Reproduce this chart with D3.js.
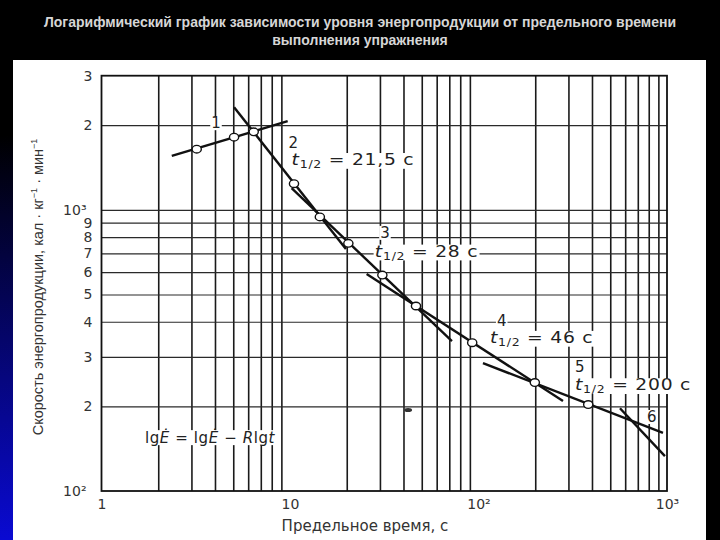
<!DOCTYPE html>
<html>
<head>
<meta charset="utf-8">
<script src="https://cdn.jsdelivr.net/npm/d3@7"></script>
<style>
  body { margin: 0; background: #000; }
  svg text { font-family: "DejaVu Sans", "Liberation Sans", Arial, sans-serif; }
</style>
</head>
<body>
<svg id="chart" width="720" height="540"></svg>
<script>
// limit time of exercise (s) and rate of energy output (cal/kg/min) for the measured points
const timeSec = [3.2, 5.05, 6.42, 10.5, 14.4, 20.4, 30.9, 46.6, 92.6, 199, 382];
const energyRate = [1644, 1814, 1894, 1239, 944, 760, 586, 455, 337, 243, 203];

// fitted straight segments 1..6, ends given as [time, rate]
const segNames = ["1", "2", "3", "4", "5", "6"];
const segStart = [[2.36, 1556], [5.05, 2318], [10.2, 1194], [25.5, 591], [105.6, 285], [563, 197]];
const segEnd = [[9.72, 2067], [19.8, 725], [72.3, 341], [280.7, 209], [952, 161], [975, 133]];

// half-times written next to segments 2..5
const halfTimes = ["21,5", "28", "46", "200"];

// axis ticks
const xTickVals = [1, 10, 100, 1000];
const xTickText = ["1", "10", "10²", "10³"];
const yTickVals = [100, 200, 300, 400, 500, 600, 700, 800, 900, 1000, 2000, 3000];
const yTickText = ["10²", "2", "3", "4", "5", "6", "7", "8", "9", "10³", "2", "3"];
const xGridVals = [2, 3, 4, 5, 6, 7, 8, 9, 20, 30, 40, 50, 60, 70, 80, 90, 200, 300, 400, 500, 600, 700, 800, 900];
const yGridVals = [200, 300, 400, 500, 600, 700, 800, 900, 1000, 2000];

const titleLines = [
  "Логарифмический график зависимости уровня энергопродукции от предельного времени",
  "выполнения упражнения"
];

const svg = d3.select("#chart");

// slide background: black with a blue strip on the left
const defs = svg.append("defs");
const grad = defs.append("linearGradient").attr("id", "side")
  .attr("x1", 0).attr("y1", 0).attr("x2", 0).attr("y2", 1);
grad.append("stop").attr("offset", "0.25").attr("stop-color", "#000");
grad.append("stop").attr("offset", "1").attr("stop-color", "#0a0ad2");

svg.append("rect").attr("width", 720).attr("height", 540).attr("fill", "#000");
svg.append("rect").attr("x", 0).attr("y", 0).attr("width", 13).attr("height", 540).attr("fill", "url(#side)");
svg.append("rect").attr("x", 13).attr("y", 60).attr("width", 693).attr("height", 480).attr("fill", "#fff");

// title
svg.selectAll(".title").data(titleLines).enter().append("text")
  .attr("class", "title")
  .attr("x", 360)
  .attr("y", (d, i) => 27 + i * 18)
  .attr("text-anchor", "middle")
  .style("font-family", "'Liberation Sans', Arial, sans-serif")
  .style("font-weight", "bold")
  .style("font-size", "14px")
  .attr("fill", "#d6d6d6")
  .text(d => d);

// plot area
const plotL = 101.5, plotR = 667, plotT = 75.7, plotB = 491;

const x = d3.scaleLog().domain([1, 1000]).range([plotL, plotR]);
const y = d3.scaleLog().domain([100, 3000]).range([plotB, plotT]);

// grid lines
svg.append("g")
  .attr("transform", `translate(0,${plotB})`)
  .call(d3.axisBottom(x).tickValues(xGridVals).tickSize(-(plotB - plotT)).tickFormat(""))
  .call(g => g.select(".domain").remove())
  .selectAll("line").attr("stroke", "#1a1a1a").attr("stroke-width", 1.6);

svg.append("g")
  .attr("transform", `translate(${plotL},0)`)
  .call(d3.axisLeft(y).tickValues(yGridVals).tickSize(-(plotR - plotL)).tickFormat(""))
  .call(g => g.select(".domain").remove())
  .selectAll("line").attr("stroke", "#2a2a2a").attr("stroke-width", 1.2);

// frame
svg.append("rect")
  .attr("x", plotL).attr("y", plotT)
  .attr("width", plotR - plotL).attr("height", plotB - plotT)
  .attr("fill", "none").attr("stroke", "#111").attr("stroke-width", 1.8);

// tick labels
svg.append("g")
  .attr("transform", `translate(0,${plotB})`)
  .call(d3.axisBottom(x).tickValues(xTickVals).tickSize(0).tickPadding(8)
    .tickFormat((d, i) => xTickText[i]))
  .call(g => g.select(".domain").remove())
  .selectAll("text")
  .style("font-size", "14px").attr("fill", "#333");

const yAx = svg.append("g")
  .attr("transform", `translate(${plotL},0)`)
  .call(d3.axisLeft(y).tickValues(yTickVals).tickSize(0).tickPadding(9)
    .tickFormat((d, i) => yTickText[i]))
  .call(g => g.select(".domain").remove());
yAx.selectAll("text")
  .style("font-size", "14px").attr("fill", "#333")
  .attr("dx", (d, i) => yTickText[i].length > 1 ? -6 : 0);

// axis titles
svg.append("text")
  .attr("x", 365).attr("y", 531)
  .attr("text-anchor", "middle")
  .style("font-size", "15px").attr("fill", "#333")
  .text("Предельное время, с");

const yTitle = svg.append("text")
  .attr("transform", "translate(43,287) rotate(-90)")
  .attr("text-anchor", "middle")
  .style("font-family", "'Liberation Sans', Arial, sans-serif")
  .style("font-size", "14.5px").attr("fill", "#333");
yTitle.append("tspan").text("Скорость энергопродукции, кал · кг");
yTitle.append("tspan").attr("dy", -6).style("font-size", "9px").text("−1");
yTitle.append("tspan").attr("dy", 6).text(" · мин");
yTitle.append("tspan").attr("dy", -6).style("font-size", "9px").text("−1");

// fitted segments
svg.selectAll(".seg").data(segNames).enter().append("line")
  .attr("class", "seg")
  .attr("x1", (d, i) => x(segStart[i][0]))
  .attr("y1", (d, i) => y(segStart[i][1]))
  .attr("x2", (d, i) => x(segEnd[i][0]))
  .attr("y2", (d, i) => y(segEnd[i][1]))
  .attr("stroke", "#111").attr("stroke-width", 2.4);

// measured points
svg.selectAll(".pt").data(timeSec).enter().append("ellipse")
  .attr("class", "pt")
  .attr("cx", d => x(d))
  .attr("cy", (d, i) => y(energyRate[i]))
  .attr("rx", 4.6).attr("ry", 3.8)
  .attr("fill", "#fff").attr("stroke", "#111").attr("stroke-width", 1.4);

// labels sit on small white patches that cut the grid, as in the scan
function patch(g) {
  const b = g.select("text").node().getBBox();
  g.insert("rect", "text")
    .attr("x", b.x - 1).attr("y", b.y + 2)
    .attr("width", b.width + 2).attr("height", b.height - 4)
    .attr("fill", "#fff");
}

// segment numbers and half-time notes (anchored in data units)
const numAt = [[4.05, 1952], [10.4, 1665], [31.9, 795], [132.8, 386], [345, 264], [829, 176]];
const noteAt = [[10.2, 1442], [28.2, 681], [115, 336], [325, 228]];

segNames.forEach((d, i) => {
  const g = svg.append("g")
    .attr("transform", `translate(${x(numAt[i][0])},${y(numAt[i][1])})`);
  g.append("text")
    .attr("text-anchor", "middle")
    .style("font-size", "15px").attr("fill", "#222")
    .text(d);
  patch(g);
});

// the scan uses a wide typeface, so the notes are stretched sideways
halfTimes.forEach((h, i) => {
  const g = svg.append("g")
    .attr("transform", `translate(${x(noteAt[i][0])},${y(noteAt[i][1])}) scale(1.25,1)`);
  const t = g.append("text")
    .style("font-size", "15px").style("letter-spacing", "0.6px").attr("fill", "#222");
  t.append("tspan").style("font-style", "italic").text("t");
  t.append("tspan").attr("dy", 3).style("font-size", "10px").text("1/2");
  t.append("tspan").attr("dy", -3).text(" = " + h + " c");
  patch(g);
});

// formula
const fg = svg.append("g").attr("transform", `translate(${x(1.70)},${y(148)})`);
const f = fg.append("text")
  .style("font-size", "15px").style("letter-spacing", "0.6px").attr("fill", "#222");
f.append("tspan").text("lg");
f.append("tspan").style("font-style", "italic").text("Ė");
f.append("tspan").text(" = lg");
f.append("tspan").style("font-style", "italic").text("Ė");
f.append("tspan").text(" − ");
f.append("tspan").style("font-style", "italic").text("R");
f.append("tspan").text("lg");
f.append("tspan").style("font-style", "italic").text("t");
patch(fg);

// small ink blot on the scan
svg.append("ellipse")
  .attr("cx", x(42.3)).attr("cy", y(194))
  .attr("rx", 4).attr("ry", 2).attr("fill", "#333");
</script>
</body>
</html>
